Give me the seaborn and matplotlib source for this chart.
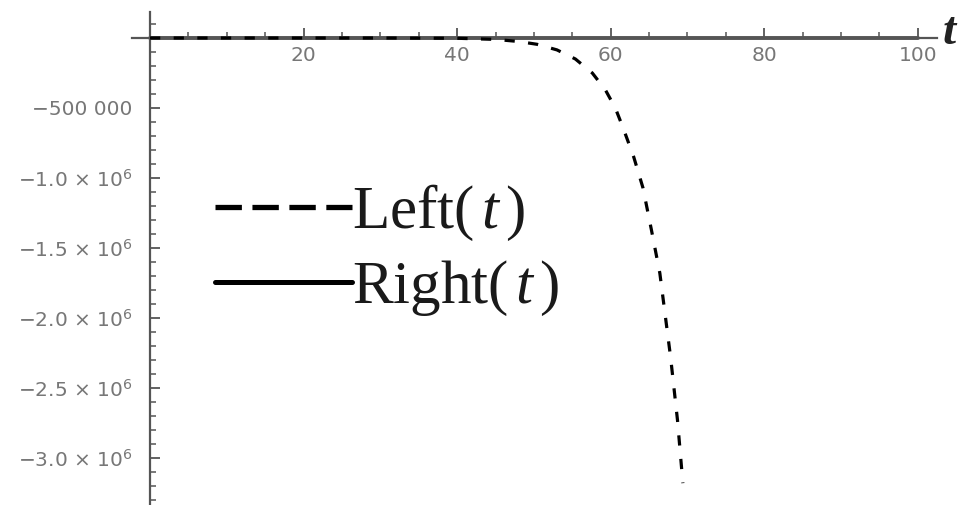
import numpy as np
import pandas as pd
import seaborn as sns
import matplotlib
matplotlib.use("Agg")
import matplotlib.pyplot as plt
from matplotlib.lines import Line2D
from matplotlib.ticker import FixedLocator, MultipleLocator

# Left(t): stays near zero, then drops sharply after t ~ 45
left_t = [0, 10, 20, 30, 40, 45, 48, 50.4, 53, 55.4, 57.6, 59.3, 60.6, 61.6,
          63.0, 64.2, 65.3, 66.4, 67.8, 68.7, 69.4]
left_vals = [0, 0, 0, 0, -2000, -10000, -25000, -45000, -85000, -150000,
             -250000, -370000, -500000, -640000, -850000, -1070000, -1370000,
             -1680000, -2280000, -2730000, -3180000]

# Right(t): flat at zero over the whole range
right_t = [0, 25, 50, 75, 100]
right_vals = [0, 0, 0, 0, 0]

x_ticks = [20, 40, 60, 80, 100]
x_tick_labels = ["20", "40", "60", "80", "100"]
y_ticks = [-500000, -1.0e6, -1.5e6, -2.0e6, -2.5e6, -3.0e6]
y_tick_labels = ["\u2212500 000",
                 "\u22121.0 \u00d7 10$^{\\mathsf{6}}$",
                 "\u22121.5 \u00d7 10$^{\\mathsf{6}}$",
                 "\u22122.0 \u00d7 10$^{\\mathsf{6}}$",
                 "\u22122.5 \u00d7 10$^{\\mathsf{6}}$",
                 "\u22123.0 \u00d7 10$^{\\mathsf{6}}$"]
legend_labels = [r"$\mathrm{Left}(\,t\,)$", r"$\mathrm{Right}(\,t\,)$"]

sns.set_theme(style="white")
plt.rcParams["font.family"] = ["DejaVu Sans"]
plt.rcParams["mathtext.fontset"] = "custom"
plt.rcParams["mathtext.rm"] = "Liberation Serif"
plt.rcParams["mathtext.it"] = "Liberation Serif:italic"
plt.rcParams["mathtext.bf"] = "Liberation Serif:bold"
plt.rcParams["mathtext.sf"] = "DejaVu Sans"

fig = plt.figure(figsize=(9.64, 5.05), dpi=100)
ax = fig.add_axes([132 / 964, 0.0, 805 / 964, 493 / 505])

left_df = pd.DataFrame({"t": left_t, "v": left_vals})
right_df = pd.DataFrame({"t": right_t, "v": right_vals})

sns.lineplot(data=right_df, x="t", y="v", ax=ax, color="#555555", lw=2.8,
             zorder=3)
sns.lineplot(data=left_df, x="t", y="v", ax=ax, color="black", lw=2.3,
             linestyle=(0, (3.2, 4.2)), zorder=4)

ax.set_xlim(-2.35, 102.5)
ax.set_ylim(-3.336e6, 1.857e5)

# Axes crossing at the origin
ax.spines["left"].set_position(("data", 0))
ax.spines["bottom"].set_position(("data", 0))
ax.spines["top"].set_visible(False)
ax.spines["right"].set_visible(False)
for s in ("left", "bottom"):
    ax.spines[s].set_color("#555555")
    ax.spines[s].set_linewidth(1.6)

ax.xaxis.set_major_locator(FixedLocator(x_ticks))
ax.set_xticklabels(x_tick_labels)
ax.xaxis.set_minor_locator(MultipleLocator(5))
ax.yaxis.set_major_locator(FixedLocator(y_ticks))
ax.set_yticklabels(y_tick_labels)
ax.yaxis.set_minor_locator(MultipleLocator(100000))

ax.tick_params(axis="both", which="major", direction="in", length=7,
               width=1.3, color="#555555", labelcolor="#777777",
               labelsize=14.5)
ax.tick_params(axis="both", which="minor", direction="in", length=4,
               width=1.1, color="#555555")
ax.tick_params(axis="x", which="major", pad=6)
ax.tick_params(axis="y", which="major", pad=13)
ax.tick_params(axis="x", bottom=True, which="both")
ax.tick_params(axis="y", left=True, which="both")

ax.set_xlabel("")
ax.set_ylabel("")

handles = [
    Line2D([], [], color="black", lw=3.8, linestyle=(0, (5.0, 2.0))),
    Line2D([], [], color="black", lw=3.6, linestyle="-"),
]
leg = ax.legend(handles, legend_labels, loc="upper left",
                bbox_to_anchor=(0.103, 0.655), frameon=False,
                fontsize=44, handlelength=2.24, handletextpad=0.0,
                borderpad=0.0, borderaxespad=0.0, labelspacing=0.23)
for txt in leg.get_texts():
    txt.set_color("#1a1a1a")

fig.text(0.985, 1 - 33 / 505, "t", fontsize=34, family="Liberation Serif",
         style="italic", weight="bold", ha="center", va="center",
         color="#222222")

fig.savefig("out.png", dpi=100, facecolor="white")
